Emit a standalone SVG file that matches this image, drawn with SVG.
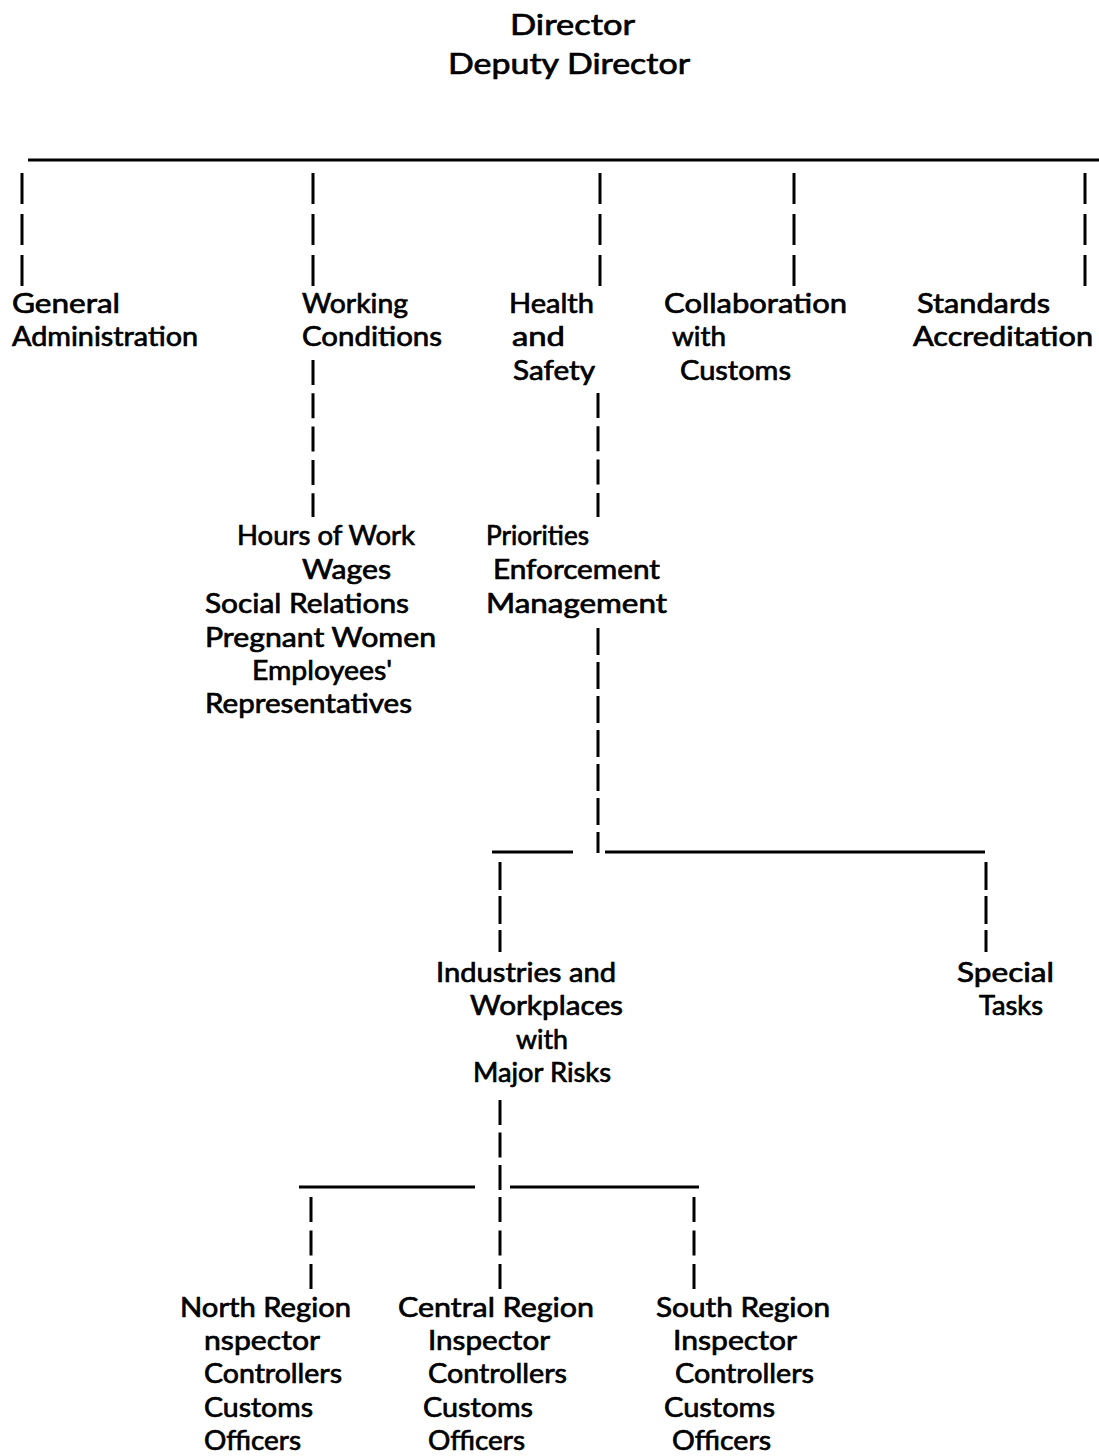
<svg xmlns="http://www.w3.org/2000/svg" width="1099" height="1456" viewBox="0 0 1099 1456">
  <style>
    text { font-family: "Lato", "Open Sans", "Liberation Sans", sans-serif; font-size: 27px; fill: #000; stroke: #000; stroke-width: 0.7; }
    .big { font-size: 29px; }
    .rule { stroke: #000; stroke-width: 3; fill: none; }
    .tick { stroke: #000; stroke-width: 3; fill: none; }
  </style>
  <rect width="1099" height="1456" fill="#fff"/>

  <!-- connectors: solid rules and dashed drop lines -->
  <g id="connectors">
    <line class="rule" x1="28" y1="160" x2="1099" y2="160"/>
    <line class="tick" x1="22" y1="173" x2="22" y2="286" stroke-dasharray="31 10"/>
    <line class="tick" x1="313" y1="173" x2="313" y2="286" stroke-dasharray="31 10"/>
    <line class="tick" x1="600" y1="173" x2="600" y2="286" stroke-dasharray="31 10"/>
    <line class="tick" x1="794" y1="173" x2="794" y2="286" stroke-dasharray="31 10"/>
    <line class="tick" x1="1085" y1="173" x2="1085" y2="286" stroke-dasharray="31 10"/>

    <line class="tick" x1="313" y1="360" x2="313" y2="517" stroke-dasharray="25 8.3"/>
    <line class="tick" x1="598" y1="393" x2="598" y2="517" stroke-dasharray="25 8.3"/>

    <line class="tick" x1="598" y1="628" x2="598" y2="853" stroke-dasharray="27 7"/>
    <line class="rule" x1="492" y1="852" x2="573" y2="852"/>
    <line class="rule" x1="605" y1="852" x2="985" y2="852"/>
    <line class="tick" x1="500" y1="862" x2="500" y2="952" stroke-dasharray="28 6"/>
    <line class="tick" x1="986" y1="862" x2="986" y2="952" stroke-dasharray="28 6"/>

    <line class="tick" x1="500" y1="1100" x2="500" y2="1190" stroke-dasharray="25 7.5"/>
    <line class="rule" x1="299" y1="1187" x2="475" y2="1187"/>
    <line class="rule" x1="510" y1="1187" x2="699" y2="1187"/>
    <line class="tick" x1="311" y1="1197" x2="311" y2="1290" stroke-dasharray="25 8.5"/>
    <line class="tick" x1="500" y1="1197" x2="500" y2="1290" stroke-dasharray="25 8.5"/>
    <line class="tick" x1="694" y1="1197" x2="694" y2="1290" stroke-dasharray="25 8.5"/>
  </g>

  <g id="director">
    <text class="big" x="510" y="35" textLength="125" lengthAdjust="spacingAndGlyphs">Director</text>
    <text class="big" x="448" y="74" textLength="242" lengthAdjust="spacingAndGlyphs">Deputy Director</text>
  </g>

  <g id="general-administration">
    <text x="12" y="313" textLength="108" lengthAdjust="spacingAndGlyphs">General</text>
    <text x="12" y="346" textLength="186" lengthAdjust="spacingAndGlyphs">Administration</text>
  </g>

  <g id="working-conditions">
    <text x="302" y="313" textLength="106" lengthAdjust="spacingAndGlyphs">Working</text>
    <text x="302" y="346" textLength="140" lengthAdjust="spacingAndGlyphs">Conditions</text>
  </g>

  <g id="health-and-safety">
    <text x="509" y="313" textLength="85" lengthAdjust="spacingAndGlyphs">Health</text>
    <text x="512" y="346" textLength="53" lengthAdjust="spacingAndGlyphs">and</text>
    <text x="513" y="380" textLength="82" lengthAdjust="spacingAndGlyphs">Safety</text>
  </g>

  <g id="collaboration-with-customs">
    <text x="664" y="313" textLength="183" lengthAdjust="spacingAndGlyphs">Collaboration</text>
    <text x="672" y="346" textLength="54" lengthAdjust="spacingAndGlyphs">with</text>
    <text x="680" y="380" textLength="111" lengthAdjust="spacingAndGlyphs">Customs</text>
  </g>

  <g id="standards-accreditation">
    <text x="917" y="313" textLength="133" lengthAdjust="spacingAndGlyphs">Standards</text>
    <text x="913" y="346" textLength="180" lengthAdjust="spacingAndGlyphs">Accreditation</text>
  </g>

  <g id="working-conditions-topics">
    <text x="237" y="545" textLength="178" lengthAdjust="spacingAndGlyphs">Hours of Work</text>
    <text x="302" y="579" textLength="89" lengthAdjust="spacingAndGlyphs">Wages</text>
    <text x="205" y="613" textLength="204" lengthAdjust="spacingAndGlyphs">Social Relations</text>
    <text x="205" y="647" textLength="231" lengthAdjust="spacingAndGlyphs">Pregnant Women</text>
    <text x="252" y="680" textLength="140" lengthAdjust="spacingAndGlyphs">Employees'</text>
    <text x="205" y="713" textLength="207" lengthAdjust="spacingAndGlyphs">Representatives</text>
  </g>

  <g id="priorities-enforcement-management">
    <text x="486" y="545" textLength="103" lengthAdjust="spacingAndGlyphs">Priorities</text>
    <text x="493" y="579" textLength="167" lengthAdjust="spacingAndGlyphs">Enforcement</text>
    <text x="486" y="613" textLength="181" lengthAdjust="spacingAndGlyphs">Management</text>
  </g>

  <g id="major-risks">
    <text x="436" y="982" textLength="180" lengthAdjust="spacingAndGlyphs">Industries and</text>
    <text x="470" y="1015" textLength="153" lengthAdjust="spacingAndGlyphs">Workplaces</text>
    <text x="516" y="1049" textLength="52" lengthAdjust="spacingAndGlyphs">with</text>
    <text x="473" y="1082" textLength="138" lengthAdjust="spacingAndGlyphs">Major Risks</text>
  </g>

  <g id="special-tasks">
    <text x="957" y="982" textLength="97" lengthAdjust="spacingAndGlyphs">Special</text>
    <text x="979" y="1015" textLength="64" lengthAdjust="spacingAndGlyphs">Tasks</text>
  </g>

  <g id="north-region">
    <text x="180" y="1317" textLength="171" lengthAdjust="spacingAndGlyphs">North Region</text>
    <text x="204" y="1350" textLength="116" lengthAdjust="spacingAndGlyphs">nspector</text>
    <text x="204" y="1383" textLength="138" lengthAdjust="spacingAndGlyphs">Controllers</text>
    <text x="204" y="1417" textLength="109" lengthAdjust="spacingAndGlyphs">Customs</text>
    <text x="204" y="1450" textLength="97" lengthAdjust="spacingAndGlyphs">Officers</text>
  </g>

  <g id="central-region">
    <text x="398" y="1317" textLength="196" lengthAdjust="spacingAndGlyphs">Central Region</text>
    <text x="428" y="1350" textLength="122" lengthAdjust="spacingAndGlyphs">Inspector</text>
    <text x="428" y="1383" textLength="139" lengthAdjust="spacingAndGlyphs">Controllers</text>
    <text x="423" y="1417" textLength="110" lengthAdjust="spacingAndGlyphs">Customs</text>
    <text x="428" y="1450" textLength="97" lengthAdjust="spacingAndGlyphs">Officers</text>
  </g>

  <g id="south-region">
    <text x="656" y="1317" textLength="174" lengthAdjust="spacingAndGlyphs">South Region</text>
    <text x="673" y="1350" textLength="124" lengthAdjust="spacingAndGlyphs">Inspector</text>
    <text x="675" y="1383" textLength="139" lengthAdjust="spacingAndGlyphs">Controllers</text>
    <text x="664" y="1417" textLength="111" lengthAdjust="spacingAndGlyphs">Customs</text>
    <text x="672" y="1450" textLength="99" lengthAdjust="spacingAndGlyphs">Officers</text>
  </g>
</svg>
